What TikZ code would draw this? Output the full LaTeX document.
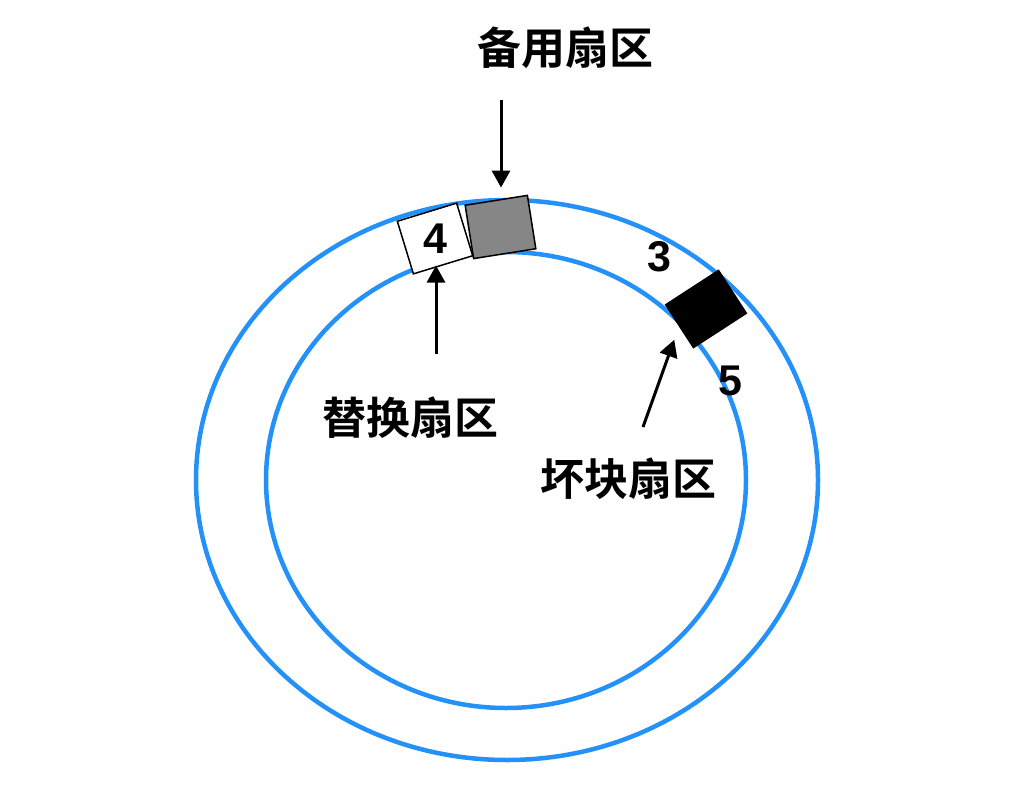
\documentclass[tikz,border=0pt]{standalone}
\usepackage{fontspec}
\setmainfont{Liberation Sans}
\newfontfamily\cjk{Noto Sans CJK SC Bold}
\usetikzlibrary{arrows.meta}
\definecolor{trackblue}{HTML}{2391F8}
\tikzset{
  track/.style={draw=trackblue, line width=4.5pt},
  sector/.style={draw=black, line width=1.5pt, inner sep=0pt, minimum width=63pt, minimum height=54pt},
  num/.style={font=\fontsize{43}{47}\selectfont\bfseries},
  caption/.style={font=\cjk\fontsize{44}{50}\selectfont},
  pointer/.style={line width=3pt, -{Triangle[width=18pt,length=17pt]}}
}
\begin{document}
\begin{tikzpicture}[x=1pt, y=-1pt]
      \useasboundingbox (0,0) rectangle (1022,786);
      \draw[track] (507,480) ellipse [x radius=311, y radius=280];
      \draw[track] (506,480) ellipse [x radius=240, y radius=228];
      \draw
        (500.5,227) node[sector, fill=gray!95, rotate=9] (spare){}
        (435,238.5) node[sector, fill=white, rotate=17, minimum width=62pt, minimum height=55pt] (replace){}
        (706,309) node[sector, fill=black, rotate=33, minimum height=51pt] (bad){};
      \draw
        (replace.center) node[num] (n4){4}
        (659,257) node[num] (n3){3}
        (730,381) node[num] (n5){5};
      \draw
        (565,48) node[caption] (sparelabel){备用扇区}
        (410,418) node[caption] (replacelabel){替换扇区}
        (628.5,479) node[caption] (badlabel){坏块扇区};
      \coordinate (sparetail) at (501,100);
      \coordinate (replacetail) at (436,354);
      \coordinate (badtail) at (643,427);
      \begin{scope}[pointer]
        \draw[shorten >=12pt] (sparetail) to (sparetail |- spare.north);
        \draw (replacetail) to (replacetail |- replace.south);
        \draw[shorten >=14pt] (badtail) to (bad.west);
      \end{scope}
    \end{tikzpicture}
\end{document}
